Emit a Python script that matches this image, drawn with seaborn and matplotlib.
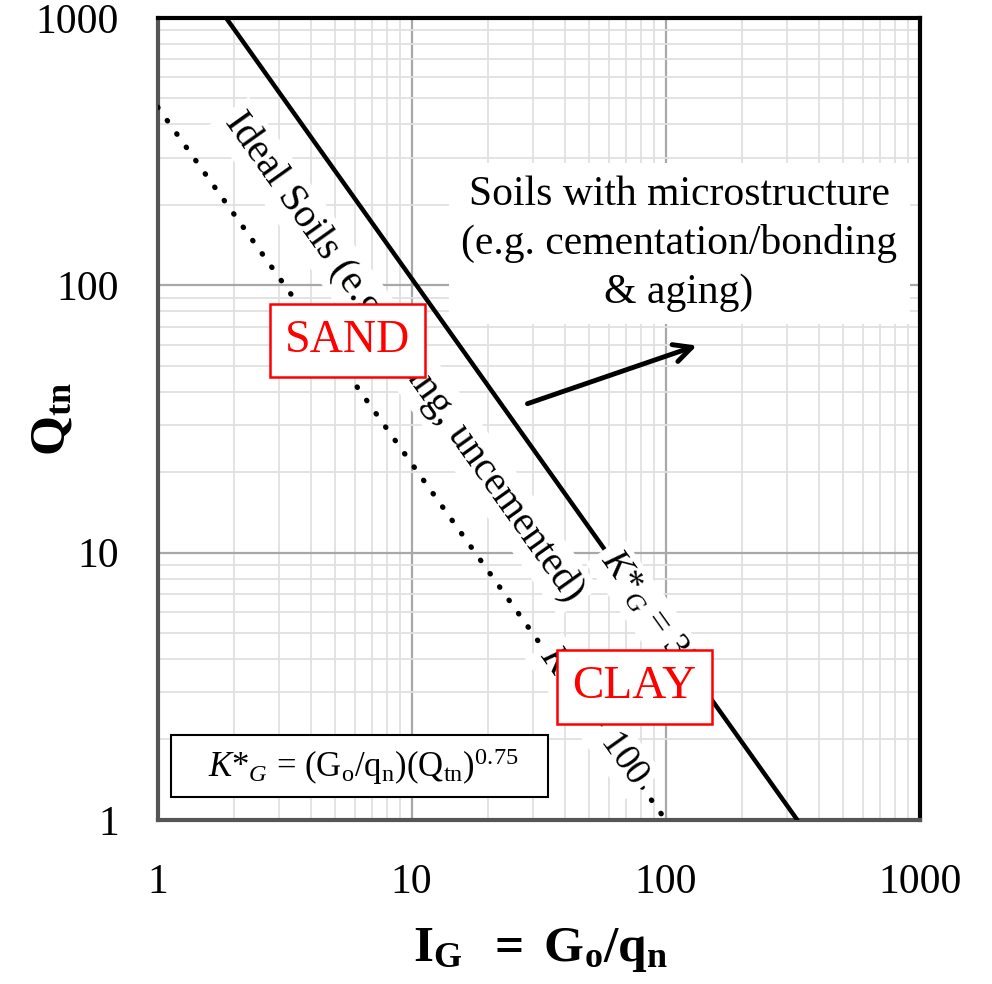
import numpy as np
import pandas as pd
import matplotlib
matplotlib.use("Agg")
import matplotlib.pyplot as plt
import seaborn as sns
from matplotlib.ticker import LogLocator, NullFormatter

# line end points (I_G, Q_tn)
ig_330 = [1.86, 330.0]
qtn_330 = [1000.0, 1.0]
ig_100 = [1.0, 100.0]
qtn_100 = [464.0, 1.0]

major_ticks = [1, 10, 100, 1000]
tick_labels = ["1", "10", "100", "1000"]

sns.set_style("white")
plt.rcParams["font.family"] = ["Liberation Serif", "DejaVu Serif"]
plt.rcParams["mathtext.fontset"] = "custom"
plt.rcParams["mathtext.rm"] = "Liberation Serif"
plt.rcParams["mathtext.it"] = "Liberation Serif:italic"
plt.rcParams["mathtext.bf"] = "Liberation Serif:bold"
plt.rcParams["text.color"] = "black"
plt.rcParams["axes.labelcolor"] = "black"
plt.rcParams["xtick.color"] = "black"
plt.rcParams["ytick.color"] = "black"

lines = pd.concat([
    pd.DataFrame({"IG": ig_330, "Qtn": qtn_330, "KG": "330"}),
    pd.DataFrame({"IG": ig_100, "Qtn": qtn_100, "KG": "100"}),
])

fig = plt.figure(figsize=(9.92, 9.84), dpi=100)
ax = fig.add_axes([0.159, 0.1667, 0.768, 0.815])
ax.set_xscale("log")
ax.set_yscale("log")
ax.set_xlim(1, 1000)
ax.set_ylim(1, 1000)

sns.lineplot(data=lines[lines.KG == "330"], x="IG", y="Qtn", ax=ax,
             color="black", lw=3.2, zorder=3)
sns.lineplot(data=lines[lines.KG == "100"], x="IG", y="Qtn", ax=ax,
             color="black", lw=3.8, linestyle=(0, (0.1, 3.0)),
             dash_capstyle="round", zorder=3)

ax.set_xticks(major_ticks, tick_labels)
ax.set_yticks(major_ticks, tick_labels)
ax.xaxis.set_minor_locator(LogLocator(base=10, subs=np.arange(2, 10)))
ax.yaxis.set_minor_locator(LogLocator(base=10, subs=np.arange(2, 10)))
ax.xaxis.set_minor_formatter(NullFormatter())
ax.yaxis.set_minor_formatter(NullFormatter())
ax.grid(which="major", color="#a8a8a8", lw=1.6, zorder=0)
ax.grid(which="minor", color="#e0e0e0", lw=1.3, zorder=0)
ax.set_axisbelow(True)
ax.tick_params(which="major", length=7, width=1.2, color="#999999",
               labelsize=30)
ax.tick_params(axis="x", which="major", pad=24)
ax.tick_params(axis="y", which="major", pad=21)
ax.tick_params(which="minor", length=0)

for side in ["left", "bottom"]:
    ax.spines[side].set_color("#555555")
    ax.spines[side].set_linewidth(3)
for side in ["top", "right"]:
    ax.spines[side].set_color("black")
    ax.spines[side].set_linewidth(3)
    ax.spines[side].set_visible(True)

ax.set_xlabel(r"$\mathbf{I_G\ \ =\ G_o/q_n}$", fontsize=37)
ax.set_ylabel(r"$\mathbf{Q_{tn}}$", fontsize=37)
ax.xaxis.set_label_coords(0.502, -0.132)
ax.yaxis.set_label_coords(-0.108, 0.5)

# slope of the lines on screen
p0, p1 = ax.transData.transform([(ig_100[0], qtn_100[0]), (ig_100[1], qtn_100[1])])
angle = np.degrees(np.arctan2(p1[1] - p0[1], p1[0] - p0[0]))

white = dict(boxstyle="square,pad=0.15", fc="white", ec="none")

ax.text(9.3, 54, "Ideal Soils (e.g. young, uncemented)", fontsize=29,
        rotation=angle, rotation_mode="anchor", ha="center", va="center",
        bbox=white, zorder=4)
ax.text(52, 2.45, r"$K$*$_G$ = 100", fontsize=27, rotation=angle,
        rotation_mode="anchor", ha="center", va="center", bbox=white, zorder=4)
ax.text(90, 5.6, r"$K$*$_G$ = 330", fontsize=27, rotation=angle,
        rotation_mode="anchor", ha="center", va="center", bbox=white, zorder=4)

ax.text(113, 143, "Soils with microstructure\n(e.g. cementation/bonding\n& aging)",
        fontsize=30, ha="center", va="center", linespacing=1.33,
        bbox=dict(boxstyle="square,pad=0.3", fc="white", ec="none"), zorder=4)
ax.annotate("", xy=(136, 60), xytext=(27.9, 35.8),
            arrowprops=dict(arrowstyle="->", lw=3.5, color="black",
                            mutation_scale=32), zorder=5)

red_box = dict(boxstyle="square,pad=0.33", fc="white", ec="red", lw=1.8)
ax.text(5.6, 62, "SAND", fontsize=33, color="red", ha="center", va="center",
        bbox=red_box, zorder=6)
ax.text(75.5, 3.15, "CLAY", fontsize=34, color="red", ha="center", va="center",
        bbox=red_box, zorder=6)

ax.text(0.265, 0.067,
        r"   $K$*$_G$ = (G$_\mathrm{o}$/q$_\mathrm{n}$)(Q$_\mathrm{tn}$)$^{0.75}$   ",
        transform=ax.transAxes, fontsize=25, ha="center", va="center",
        bbox=dict(boxstyle="square,pad=0.3", fc="white", ec="black", lw=1.5),
        zorder=6)

fig.savefig("out.png", dpi=100)
